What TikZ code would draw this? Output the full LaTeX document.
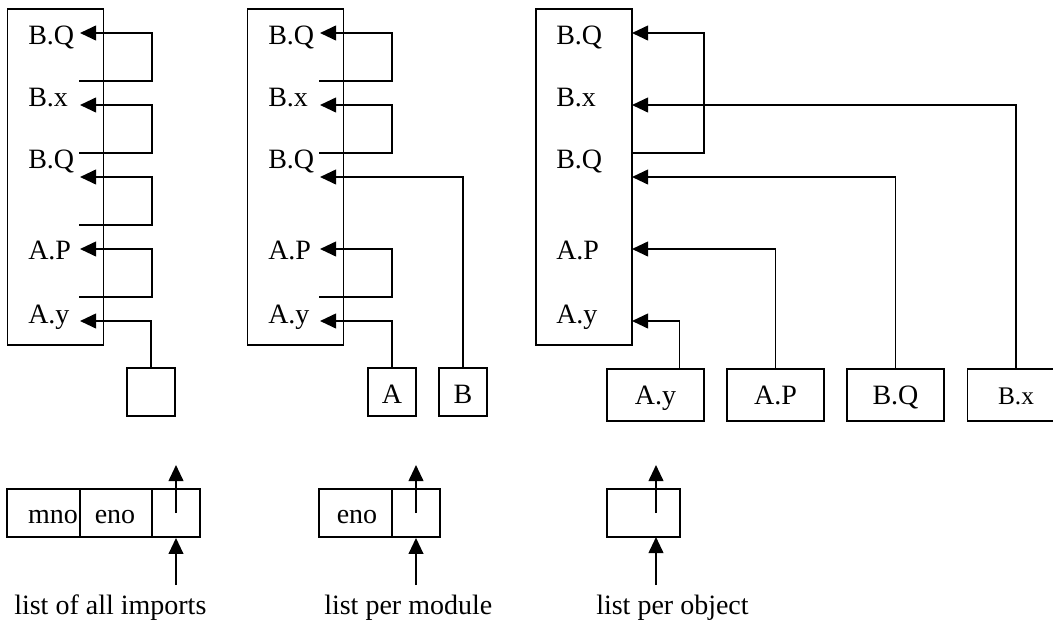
\documentclass[tikz,border=0pt]{standalone}
\usepackage{fontspec}
\setmainfont{Liberation Serif}
\usetikzlibrary{arrows.meta}

\tikzset{
  ptr/.style={-{Triangle[length=12pt,width=11pt]}, line width=1.4pt},
  tbl/.style={draw, line width=1.4pt, minimum width=72pt, minimum height=252pt, inner sep=0pt},
  sbox/.style={draw, line width=1.4pt, minimum width=36pt, minimum height=36pt, inner sep=0pt, text height=17pt, text depth=0pt},
  obox/.style={draw, line width=1.4pt, minimum width=72.75pt, minimum height=39pt, inner sep=0pt, text height=16pt, text depth=2pt},
  cell/.style={draw, line width=1.4pt, minimum height=36pt, inner sep=0pt},
  lbl/.style={inner sep=0pt, anchor=base west},
}

\begin{document}
\begin{tikzpicture}[x=0.75pt,y=0.75pt,yscale=-1,xscale=1, font=\fontsize{21}{25}\selectfont]
\path[use as bounding box] (0,0) rectangle (1053,625);
\clip (0,0) rectangle (1053,625);

%Table: list of all imports
\node[tbl] (tblA) at (55.5,177) {};
\node[lbl] (a1) at (28,44) {B.Q};
\node[lbl] (a2) at (28,106) {B.x};
\node[lbl] (a3) at (28,168) {B.Q};
\node[lbl] (a4) at (28,259) {A.P};
\node[lbl] (a5) at (28,323) {A.y};
\coordinate (a1in) at (80,33);
\coordinate (a2in) at (80,105);
\coordinate (a3in) at (80,177);
\coordinate (a4in) at (80,249);
\coordinate (a5in) at (80,321);
\coordinate (a1out) at (79,81);
\coordinate (a2out) at (79,153);
\coordinate (a3out) at (79,225);
\coordinate (a4out) at (79,297);
\draw[ptr] (a1out) -- ++(73,0) |- (a1in);
\draw[ptr] (a2out) -- ++(73,0) |- (a2in);
\draw[ptr] (a3out) -- ++(73,0) |- (a3in);
\draw[ptr] (a4out) -- ++(73,0) |- (a4in);
%Shape: Square
\node[sbox] (headA) at (151,392) {};
\draw[ptr] (headA.north) |- (a5in);

%Table: list per module
\node[tbl] (tblB) at (295.5,177) {};
\node[lbl] (b1) at (268,44) {B.Q};
\node[lbl] (b2) at (268,106) {B.x};
\node[lbl] (b3) at (268,168) {B.Q};
\node[lbl] (b4) at (268,259) {A.P};
\node[lbl] (b5) at (268,323) {A.y};
\coordinate (b1in) at (320,33);
\coordinate (b2in) at (320,105);
\coordinate (b3in) at (320,177);
\coordinate (b4in) at (320,249);
\coordinate (b5in) at (320,321);
\coordinate (b1out) at (319,81);
\coordinate (b2out) at (319,153);
\coordinate (b4out) at (319,297);
\draw[ptr] (b1out) -- ++(73,0) |- (b1in);
\draw[ptr] (b2out) -- ++(73,0) |- (b2in);
\draw[ptr] (b4out) -- ++(73,0) |- (b4in);
%Shape: Squares
\node[sbox] (headBA) at (392,392) {A};
\node[sbox] (headBB) at (463,392) {B};
\draw[ptr] (headBA.north) |- (b5in);
\draw[ptr] (headBB.north) |- (b3in);

%Table: list per object
\node[tbl] (tblC) at (584,177) {};
\node[lbl] (c1) at (556,44) {B.Q};
\node[lbl] (c2) at (556,106) {B.x};
\node[lbl] (c3) at (556,168) {B.Q};
\node[lbl] (c4) at (556,259) {A.P};
\node[lbl] (c5) at (556,323) {A.y};
\coordinate (c1in) at (632,33);
\coordinate (c2in) at (632,105);
\coordinate (c3in) at (632,177);
\coordinate (c4in) at (632,249);
\coordinate (c5in) at (632,321);
\coordinate (c3out) at (632,153);
\draw[ptr] (c3out) -- ++(72,0) |- (c1in);
%Shape: Rectangles
\node[obox] (headCAy) at (655.5,394.7) {A.y};
\node[obox] (headCAP) at (775.5,394.7) {A.P};
\node[obox] (headCBQ) at (895.5,394.7) {B.Q};
\node[obox, font=\fontsize{19}{23}\selectfont] (headCBx) at (1016,394.7) {B.x};
\draw[ptr] ([xshift=18pt]headCAy.north) |- (c5in);
\draw[ptr] (headCAP.north) |- (c4in);
\draw[ptr] (headCBQ.north) |- (c3in);
\draw[ptr] (headCBx.north) |- (c2in);

%Records
\node[cell, minimum width=54.5pt] (r1a) at (43.6,513) {};
\node[cell, minimum width=54pt] (r1b) at (116,513) {};
\node[cell, minimum width=36pt] (r1c) at (176,513) {};
\node[lbl, anchor=base] (r1atxt) at (53,523) {mno};
\node[lbl, anchor=base] (r1btxt) at (115,523) {eno};
\coordinate (r1up) at (176,465);
\coordinate (r1feed) at (176,585);
\draw[ptr] (r1c.center) -- (r1up);
\draw[ptr] (r1feed) -- (r1c.south);

\node[cell, minimum width=54.75pt] (r2a) at (355.5,513) {};
\node[cell, minimum width=36pt] (r2b) at (416,513) {};
\node[lbl, anchor=base] (r2atxt) at (357,523) {eno};
\coordinate (r2up) at (416,465);
\coordinate (r2feed) at (416,585);
\draw[ptr] (r2b.center) -- (r2up);
\draw[ptr] (r2feed) -- (r2b.south);

\node[cell, minimum width=54.75pt] (r3a) at (643.5,513) {};
\coordinate (r3mid) at (656,513);
\coordinate (r3up) at (656,465);
\coordinate (r3feed) at (656,585);
\coordinate (r3foot) at (656,537);
\draw[ptr] (r3mid) -- (r3up);
\draw[ptr] (r3feed) -- (r3foot);

%Captions
\node[lbl] (cap1) at (14,614) {list of all imports};
\node[lbl] (cap2) at (324,614) {list per module};
\node[lbl] (cap3) at (596,614) {list per object};

\end{tikzpicture}
\end{document}
